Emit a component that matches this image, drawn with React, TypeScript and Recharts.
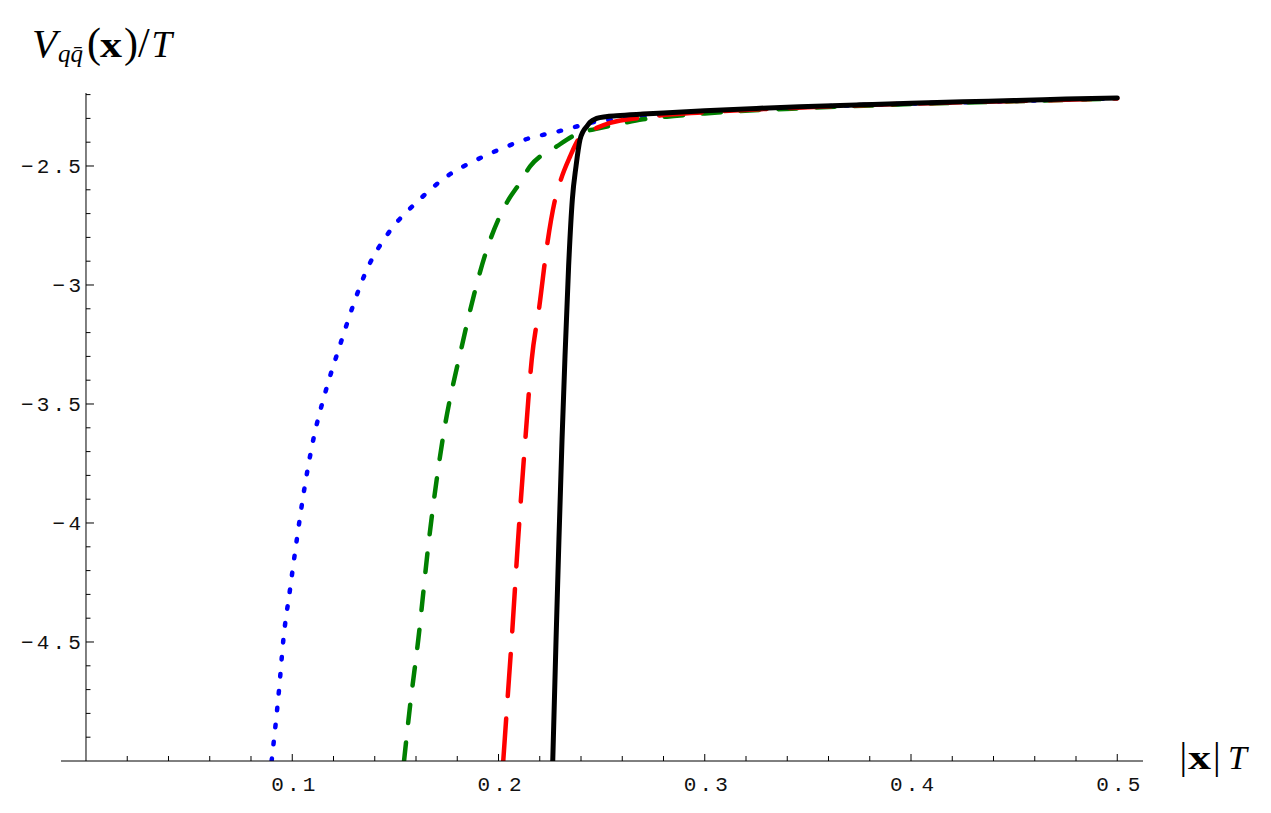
import React from "react";
import { LineChart, Line, XAxis, YAxis, ReferenceLine } from "recharts";

// ---------- data ----------
const blueDotted: [number, number][] = [
  [0.09, -5], [0.0936, -4.7], [0.0957, -4.49], [0.0989, -4.28], [0.1022, -4.07],
  [0.1058, -3.86], [0.1102, -3.65], [0.1164, -3.44], [0.1225, -3.27], [0.1369, -2.922],
  [0.1466, -2.782], [0.1616, -2.642], [0.1749, -2.544], [0.1894, -2.474], [0.204, -2.418],
  [0.2128, -2.389], [0.2288, -2.355], [0.2379, -2.334], [0.2444, -2.319], [0.26, -2.3],
  [0.28, -2.283], [0.3, -2.272], [0.35, -2.252], [0.4, -2.238], [0.45, -2.227], [0.5, -2.216],
];

const greenDashed: [number, number][] = [
  [0.1542, -5], [0.1571, -4.77], [0.1611, -4.49], [0.1663, -4.07], [0.1729, -3.65],
  [0.1822, -3.258], [0.1943, -2.852], [0.2048, -2.642], [0.2092, -2.586], [0.2153, -2.502],
  [0.2282, -2.418], [0.2395, -2.36], [0.2468, -2.345], [0.259, -2.322], [0.27, -2.304],
  [0.285, -2.29], [0.3, -2.279], [0.35, -2.256], [0.4, -2.24], [0.45, -2.228], [0.5, -2.217],
];

const redLongDashed: [number, number][] = [
  [0.2023, -5], [0.2043, -4.75], [0.2064, -4.49], [0.2095, -4.07], [0.213, -3.65],
  [0.2161, -3.314], [0.2198, -3.09], [0.2237, -2.824], [0.2274, -2.642], [0.2302, -2.558],
  [0.2347, -2.46], [0.2387, -2.389], [0.243, -2.358], [0.2476, -2.34], [0.2541, -2.319],
  [0.27, -2.296], [0.3, -2.274], [0.35, -2.253], [0.4, -2.238], [0.45, -2.227], [0.5, -2.216],
];

const blackSolid: [number, number][] = [
  [0.2263, -5], [0.2279, -4.49], [0.2293, -4.07], [0.2308, -3.65], [0.2322, -3.31],
  [0.234, -2.92], [0.2358, -2.64], [0.2376, -2.5], [0.2395, -2.39], [0.241, -2.355],
  [0.2428, -2.334], [0.2444, -2.316], [0.2476, -2.3], [0.252, -2.293], [0.2573, -2.289],
  [0.27, -2.282], [0.28, -2.277], [0.3, -2.268], [0.325, -2.258], [0.35, -2.25],
  [0.375, -2.243], [0.4, -2.236], [0.425, -2.23], [0.45, -2.225], [0.475, -2.219], [0.5, -2.214],
];

const xMajorTicks = [0.1, 0.2, 0.3, 0.4, 0.5];
const xTickLabels = ["0.1", "0.2", "0.3", "0.4", "0.5"];
const xMinorTicks = [
  0.02, 0.04, 0.06, 0.08, 0.12, 0.14, 0.16, 0.18, 0.22, 0.24,
  0.26, 0.28, 0.32, 0.34, 0.36, 0.38, 0.42, 0.44, 0.46, 0.48,
];

const yMajorTicks = [-4.5, -4, -3.5, -3, -2.5];
const yTickLabels = ["\u22124.5", "\u22124", "\u22123.5", "\u22123", "\u22122.5"];
const yMinorTicks = [
  -4.9, -4.8, -4.7, -4.6, -4.4, -4.3, -4.2, -4.1, -3.9, -3.8, -3.7, -3.6,
  -3.4, -3.3, -3.2, -3.1, -2.9, -2.8, -2.7, -2.6, -2.4, -2.3, -2.2,
];

// ---------- layout ----------
const CHART_W = 1255;
const CHART_H = 797;
const Y_AXIS_W = 1;
const MARGIN = { top: 85, right: 120, bottom: 0, left: 52 };
const X_AXIS_H = 44;
const X_DOMAIN: [number, number] = [-0.01212, 0.51248];
const Y_DOMAIN: [number, number] = [-5, -2.1933];
const PLOT_LEFT = MARGIN.left + Y_AXIS_W;
const PLOT_W = CHART_W - PLOT_LEFT - MARGIN.right;
const PLOT_BOTTOM = CHART_H - X_AXIS_H - MARGIN.bottom;
const AXIS_X = PLOT_LEFT + ((0 - X_DOMAIN[0]) / (X_DOMAIN[1] - X_DOMAIN[0])) * PLOT_W;

const TICK_FONT = "'Liberation Mono', 'DejaVu Sans Mono', monospace";
const TICK_FS = 21;
const TICK_LS = 3.2;
const SERIF = "'Liberation Serif', 'DejaVu Serif', serif";

const toRows = (pts: [number, number][]) => pts.map(([x, y]) => ({ x, y }));

const tickTextStyle: React.CSSProperties = {
  fontFamily: TICK_FONT,
  fontSize: TICK_FS,
  letterSpacing: `${TICK_LS}px`,
};

const XTick = (props: any) => {
  const { x, payload } = props;
  const v = payload.value;
  const i = xMajorTicks.indexOf(v);
  const major = i >= 0;
  return (
    <g>
      <line x1={x} x2={x} y1={PLOT_BOTTOM} y2={PLOT_BOTTOM - (major ? 7 : 5)} stroke="#000" strokeWidth={1} />
      {major && (
        <text x={x + TICK_LS / 2 + 1} y={PLOT_BOTTOM + 30} textAnchor="middle" style={tickTextStyle} fill="#111">
          {xTickLabels[i]}
        </text>
      )}
    </g>
  );
};

const YTick = (props: any) => {
  const { y, payload } = props;
  const v = payload.value;
  const i = yMajorTicks.indexOf(v);
  const major = i >= 0;
  return (
    <g>
      <line x1={AXIS_X} x2={AXIS_X + (major ? 8 : 4.5)} y1={y} y2={y} stroke="#000" strokeWidth={1} />
      {major && (
        <text x={AXIS_X - 5 + TICK_LS} y={y + 7.5} textAnchor="end" style={tickTextStyle} fill="#111">
          {yTickLabels[i]}
        </text>
      )}
    </g>
  );
};

const allXTicks = [...xMinorTicks, ...xMajorTicks].sort((a, b) => a - b);
const allYTicks = [...yMinorTicks, ...yMajorTicks].sort((a, b) => a - b);

export default function App() {
  return (
    <div style={{ position: "relative", width: CHART_W, height: CHART_H, background: "#fff" }}>
      <LineChart width={CHART_W} height={CHART_H} margin={MARGIN}>
        <XAxis
          type="number"
          dataKey="x"
          domain={X_DOMAIN}
          allowDataOverflow
          ticks={allXTicks}
          interval={0}
          height={X_AXIS_H}
          axisLine={{ stroke: "#000", strokeWidth: 1 }}
          tickLine={false}
          tick={<XTick />}
        />
        <YAxis
          type="number"
          dataKey="y"
          domain={Y_DOMAIN}
          allowDataOverflow
          ticks={allYTicks}
          interval={0}
          width={Y_AXIS_W}
          axisLine={false}
          tickLine={false}
          tick={<YTick />}
        />
        <ReferenceLine x={0} stroke="#000" strokeWidth={1} />
        <Line
          data={toRows(blueDotted)}
          dataKey="y"
          type="monotone"
          stroke="#0000ff"
          strokeWidth={4.5}
          strokeDasharray="2.5 14.5"
          strokeLinecap="round"
          dot={false}
          activeDot={false}
          isAnimationActive={false}
        />
        <Line
          data={toRows(greenDashed)}
          dataKey="y"
          type="monotone"
          stroke="#008000"
          strokeWidth={4.5}
          strokeDasharray="18.5 19.5"
          strokeLinecap="round"
          dot={false}
          activeDot={false}
          isAnimationActive={false}
        />
        <Line
          data={toRows(redLongDashed)}
          dataKey="y"
          type="monotone"
          stroke="#ff0000"
          strokeWidth={4.5}
          strokeDasharray="42.5 22.5"
          strokeLinecap="round"
          dot={false}
          activeDot={false}
          isAnimationActive={false}
        />
        <Line
          data={toRows(blackSolid)}
          dataKey="y"
          type="monotone"
          stroke="#000000"
          strokeWidth={5}
          strokeLinecap="round"
          strokeLinejoin="round"
          dot={false}
          activeDot={false}
          isAnimationActive={false}
        />
      </LineChart>
      <svg
        width={CHART_W}
        height={CHART_H}
        style={{ position: "absolute", left: 0, top: 0, pointerEvents: "none" }}
      >
        {/* y-axis title: V_{q q̄}(x)/T */}
        <text x={24} y={48.7} fontFamily={SERIF} fontStyle="italic" fontSize={41} fill="#000">V</text>
        <text x={50} y={53.5} fontFamily={SERIF} fontStyle="italic" fontSize={25} fill="#000">qq̄</text>
        <text x={79} y={48.7} fontFamily={SERIF} fontSize={42} fill="#000">(</text>
        <text x={92} y={48.7} fontFamily={SERIF} fontWeight="bold" fontSize={35} fill="#000" textLength={22} lengthAdjust="spacingAndGlyphs">x</text>
        <text x={116} y={48.7} fontFamily={SERIF} fontSize={42} fill="#000">)</text>
        <text x={130} y={48.7} fontFamily={SERIF} fontSize={42} fill="#000">/</text>
        <text x={143.5} y={48.7} fontFamily={SERIF} fontStyle="italic" fontSize={37} fill="#000">T</text>
        {/* x-axis title: |x|T */}
        <text x={1171.5} y={761.3} fontFamily={SERIF} fontSize={38} fill="#000">|</text>
        <text x={1180} y={761.3} fontFamily={SERIF} fontWeight="bold" fontSize={33} fill="#000" textLength={23} lengthAdjust="spacingAndGlyphs">x</text>
        <text x={1205} y={761.3} fontFamily={SERIF} fontSize={38} fill="#000">|</text>
        <text x={1220} y={761.3} fontFamily={SERIF} fontStyle="italic" fontSize={34} fill="#000">T</text>
      </svg>
    </div>
  );
}
